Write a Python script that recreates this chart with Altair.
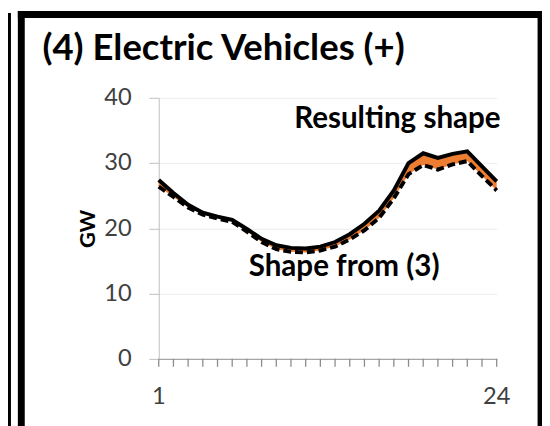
import altair as alt
import pandas as pd

hours = list(range(1, 25))
resulting = [27.4, 25.4, 23.6, 22.4, 21.8, 21.3, 19.9, 18.4, 17.4, 17.0, 16.9, 17.2,
             17.9, 19.1, 20.7, 22.7, 25.8, 30.0, 31.5, 30.8, 31.4, 31.8, 29.5, 27.2]
shape3 = [26.4, 24.8, 23.2, 22.1, 21.5, 21.0, 19.5, 17.9, 16.8, 16.4, 16.3, 16.6,
          17.2, 18.3, 19.7, 21.6, 24.6, 28.3, 29.7, 29.0, 29.8, 30.3, 28.0, 25.8]
x_labels = [1, 24]
title_text = ["(4) Electric Vehicles (+)"]
label_top = ["Resulting shape"]
label_bottom = ["Shape from (3)"]
y_ticks = [0, 10, 20, 30, 40]

df = pd.DataFrame({"hour": hours, "resulting": resulting, "shape3": shape3})
one = pd.DataFrame({"k": [0]})

FONT = "Lato"
PW, PH = 343, 265

xscale = alt.Scale(domain=[1, 24], nice=False, zero=False)
xenc = alt.X("hour:Q", scale=xscale,
             axis=alt.Axis(title=None, grid=False, ticks=False, labels=False,
                           domainColor="#a6a6a6", domainWidth=1.5))
yenc_axis = alt.Axis(values=y_ticks, title="GW", titleFont=FONT, titleFontSize=22,
                     titleFontWeight="bold", titleColor="#000000", titleX=-72,
                     titleY=PH / 2, titleAlign="center", titleBaseline="middle",
                     titleAngle=-90, grid=True, gridColor="#ececec", tickSize=10,
                     tickColor="#bfbfbf", domainColor="#bfbfbf", labelFont=FONT,
                     labelFontSize=24, labelColor="#404040", labelPadding=18)

base = alt.Chart(df)
area = base.mark_area(color="#ED7D31", opacity=1).encode(
    x=xenc,
    y=alt.Y("resulting:Q", scale=alt.Scale(domain=[0, 40]), axis=yenc_axis),
    y2="shape3:Q",
)
line_dash = base.mark_line(color="black", strokeWidth=4, strokeDash=[8, 4]).encode(
    x="hour:Q", y="shape3:Q")
line_solid = base.mark_line(color="black", strokeWidth=4).encode(
    x="hour:Q", y="resulting:Q")
xticks = base.mark_rule(color="#8c8c8c", strokeWidth=1.3).encode(
    x="hour:Q", y=alt.value(PH), y2=alt.value(PH + 8))
xlabels = alt.Chart(pd.DataFrame({"hour": x_labels})).mark_text(
    font=FONT, fontSize=24, color="#404040", align="center", baseline="alphabetic").encode(
    x="hour:Q", y=alt.value(PH + 46), text="hour:N")

deco = alt.Chart(one)
frame_left = deco.mark_rule(color="black", strokeWidth=7).encode(
    x=alt.value(-139.5), y=alt.value(-88), y2=alt.value(340))
frame_top = deco.mark_rule(color="black", strokeWidth=7).encode(
    x=alt.value(-143), x2=alt.value(392), y=alt.value(-84.5))
frame_right = deco.mark_rule(color="black", strokeWidth=7).encode(
    x=alt.value(388), y=alt.value(-88), y2=alt.value(340))
left_bar = deco.mark_rule(color="black", strokeWidth=3).encode(
    x=alt.value(-151.5), y=alt.value(-86), y2=alt.value(340))

title = alt.Chart(pd.DataFrame({"t": title_text})).mark_text(
    font=FONT, fontSize=37, fontWeight="bold", align="left", baseline="alphabetic",
    color="black").encode(x=alt.value(-118), y=alt.value(-38), text="t:N")
ann1 = alt.Chart(pd.DataFrame({"t": label_top})).mark_text(
    font=FONT, fontSize=30, fontWeight="bold", align="right", baseline="alphabetic",
    color="black").encode(x=alt.value(347), y=alt.value(31), text="t:N")
ann2 = alt.Chart(pd.DataFrame({"t": label_bottom})).mark_text(
    font=FONT, fontSize=30, fontWeight="bold", align="right", baseline="alphabetic",
    color="black").encode(x=alt.value(285), y=alt.value(181), text="t:N")

chart = alt.layer(area, line_dash, line_solid, xticks, xlabels, frame_left, frame_top,
                  frame_right, left_bar, title, ann1, ann2).properties(
    width=PW, height=PH,
    autosize=alt.AutoSizeParams(type="none"),
    padding={"left": 153, "top": 88, "right": 46, "bottom": 65},
).configure_view(stroke=None)

chart.save("out.html", embed_options={"renderer": "svg", "actions": False})
